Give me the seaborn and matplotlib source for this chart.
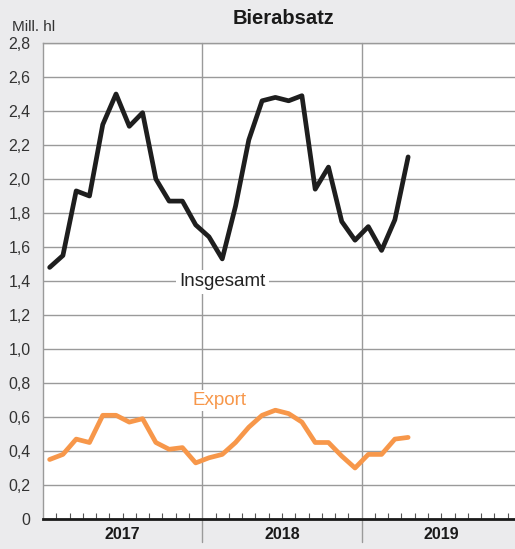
import numpy as np
import pandas as pd
import matplotlib.pyplot as plt
import matplotlib.transforms as mtransforms
import seaborn as sns

# --- Data (Mill. hl, monthly Jan 2017 - Apr 2019) ---
years = ["2017", "2018", "2019"]
insgesamt = [1.48, 1.55, 1.93, 1.90, 2.32, 2.50, 2.31, 2.39, 2.00, 1.87, 1.87, 1.73,
             1.66, 1.53, 1.84, 2.23, 2.46, 2.48, 2.46, 2.49, 1.94, 2.07, 1.75, 1.64,
             1.72, 1.58, 1.76, 2.13]
export = [0.35, 0.38, 0.47, 0.45, 0.61, 0.61, 0.57, 0.59, 0.45, 0.41, 0.42, 0.33,
          0.36, 0.38, 0.45, 0.54, 0.61, 0.64, 0.62, 0.57, 0.45, 0.45, 0.37, 0.30,
          0.38, 0.38, 0.47, 0.48]
yticks = [0, 0.2, 0.4, 0.6, 0.8, 1.0, 1.2, 1.4, 1.6, 1.8, 2.0, 2.2, 2.4, 2.6, 2.8]

months = np.arange(len(insgesamt)) + 0.5
df = pd.DataFrame({"monat": np.concatenate([months, months]),
                   "wert": insgesamt + export,
                   "serie": ["Insgesamt"] * len(insgesamt) + ["Export"] * len(export)})

sns.set_style("white")
plt.rcParams["font.family"] = ["Liberation Sans", "DejaVu Sans"]

bg = "#ebebed"
grid = "#9a9a9a"
orange = "#f7974a"

fig = plt.figure(figsize=(5.15, 5.49), dpi=100, facecolor=bg)
ax = fig.add_axes([43 / 515, 30 / 549, 478 / 515, 476 / 549])
ax.set_facecolor("white")

sns.lineplot(data=df, x="monat", y="wert", hue="serie",
             palette={"Insgesamt": "#1e1e1e", "Export": orange},
             linewidth=3.4, legend=False, ax=ax, zorder=3)

ax.set_xlim(0, 36)
ax.set_ylim(0, 2.8)
ax.set_yticks(yticks)
ax.set_yticklabels(["0"] + [f"{v:.1f}".replace(".", ",") for v in yticks[1:]],
                   fontsize=11.5, color="#333333")
ax.yaxis.grid(True, color=grid, linewidth=1.0)
ax.set_axisbelow(True)

ax.set_xticks([m for m in range(1, 36) if m % 12 != 0])
ax.set_xticklabels([])
ax.tick_params(axis="x", bottom=True, direction="in", length=4.5, width=0.8,
               color="#555555", pad=2)
ax.tick_params(axis="y", length=0, pad=9)
ax.set_xlabel("")
ax.set_ylabel("")

for s in ["top", "left", "right"]:
    ax.spines[s].set_color(grid)
    ax.spines[s].set_linewidth(1.0)
ax.spines["bottom"].set_color("#1a1a1a")
ax.spines["bottom"].set_linewidth(2.0)
ax.spines["bottom"].set_zorder(4)

# year dividers, running down into the label area
trans = mtransforms.blended_transform_factory(ax.transData, ax.transAxes)
for xb in [12, 24]:
    ax.plot([xb, xb], [-0.048, 1.0], color=grid, linewidth=1.0,
            transform=trans, clip_on=False, zorder=1)

for i, yr in enumerate(years):
    ax.text(i * 12 + 6, -0.033, yr, transform=trans, ha="center", va="center",
            fontsize=11.5, fontweight="bold", color="#1a1a1a")

ax.text(13.5, 1.395, "Insgesamt", ha="center", va="center", fontsize=13.5,
        color="#222222", zorder=5,
        bbox=dict(facecolor="white", edgecolor="none", pad=2.5))
ax.text(13.3, 0.695, "Export", ha="center", va="center", fontsize=13.5,
        color=orange, zorder=5,
        bbox=dict(facecolor="white", edgecolor="none", pad=1.5))

fig.text(283 / 515, 1 - 18 / 549, "Bierabsatz", ha="center", va="center",
         fontsize=14.5, fontweight="bold", color="#1a1a1a")
fig.text(12 / 515, 1 - 27 / 549, "Mill. hl", ha="left", va="center",
         fontsize=11, color="#333333")

fig.savefig("out.png", dpi=100, facecolor=bg)
